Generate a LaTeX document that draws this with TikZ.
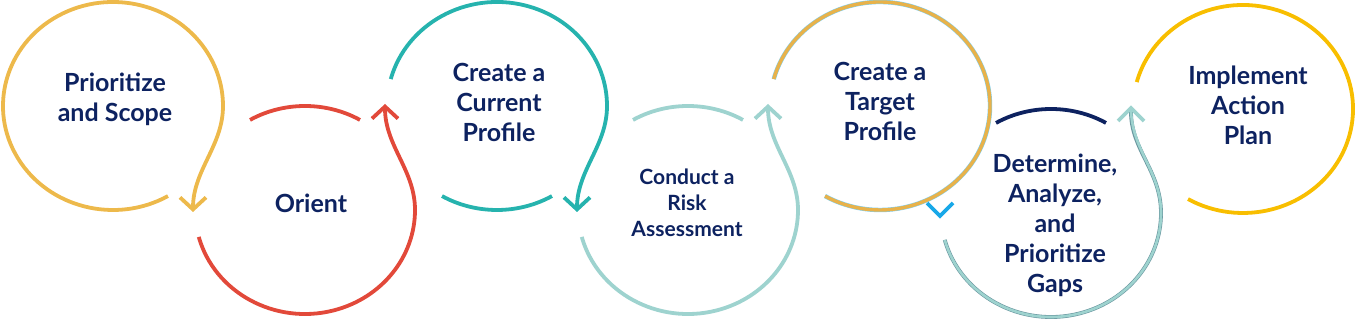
\documentclass[tikz,border=0pt]{standalone}
\usepackage{fontspec}
\setmainfont{Lato}
\usetikzlibrary{arrows.meta,calc}
\definecolor{stepnavy}{HTML}{0D2260}
\definecolor{stepyellow}{HTML}{EDB94B}
\definecolor{stepred}{HTML}{E2493A}
\definecolor{stepteal}{HTML}{26B3AE}
\definecolor{steplight}{HTML}{9ED3CF}
\definecolor{steporange}{HTML}{E8B24A}
\definecolor{stepgold}{HTML}{F8BE00}
\definecolor{stepblue}{HTML}{18A8E8}
\definecolor{stepedge}{HTML}{6A97A0}
\tikzset{
  % Base styles
  loop base/.style={line width=3.8pt},
  barb end/.style={-{Straight Barb[length=12pt,width=26pt]}},
  % Step labels
  step label/.style={font=\bfseries\fontsize{25}{30}\selectfont, text=stepnavy, align=center, inner sep=0pt},
  step label small/.style={step label, font=\bfseries\fontsize{21}{26}\selectfont},
}

\begin{document}
\begin{tikzpicture}[x=1pt, y=1pt]
\useasboundingbox (0,0) rectangle (1355,320);

% Loop centres
\coordinate (c1) at (113,214);
\coordinate (c2) at (305,110);
\coordinate (c3) at (497,214);
\coordinate (c4) at (688,110);
\coordinate (c5) at (880,214);
\coordinate (c6) at (1051,107);
\coordinate (c7) at (1243,211);

% Arrow tips
\coordinate (tip1) at (193,108);
\coordinate (tip2) at (385,216);
\coordinate (tip3) at (577,108);
\coordinate (tip4) at (768,216);
\coordinate (tip5) at (940,104);
\coordinate (tip6) at (1131,212);

% Prioritize and Scope
\draw[loop base, stepyellow, barb end] (c1) ++(-60:110pt and 104pt)
  arc[start angle=-60, end angle=-360, x radius=110pt, y radius=104pt]
  .. controls +(0,-40) and +(0,42) .. (tip1);

% Orient
\draw[loop base, stepred] (c2) ++(120:110pt and 104pt)
  arc[start angle=120, end angle=60, x radius=110pt, y radius=104pt];
\draw[loop base, stepred, barb end] (c2) ++(195:110pt and 104pt)
  arc[start angle=195, end angle=360, x radius=110pt, y radius=104pt]
  .. controls +(0,40) and +(0,-42) .. (tip2);

% Create a Current Profile
\draw[loop base, stepteal] (c3) ++(240:110pt and 104pt)
  arc[start angle=240, end angle=300, x radius=110pt, y radius=104pt];
\draw[loop base, stepteal, barb end] (c3) ++(165:110pt and 104pt)
  arc[start angle=165, end angle=0, x radius=110pt, y radius=104pt]
  .. controls +(0,-40) and +(0,42) .. (tip3);

% Conduct a Risk Assessment
\draw[loop base, steplight] (c4) ++(120:110pt and 104pt)
  arc[start angle=120, end angle=60, x radius=110pt, y radius=104pt];
\draw[loop base, steplight, barb end] (c4) ++(195:110pt and 104pt)
  arc[start angle=195, end angle=360, x radius=110pt, y radius=104pt]
  .. controls +(0,40) and +(0,-42) .. (tip4);

% Create a Target Profile
\draw[line width=4.4pt, stepblue!55] (c5) ++(165:110pt and 104pt)
  arc[start angle=165, end angle=-120, x radius=110pt, y radius=104pt];
\draw[line width=3.4pt, steporange] (c5) ++(165:110pt and 104pt)
  arc[start angle=165, end angle=-120, x radius=110pt, y radius=104pt];
\draw[loop base, stepblue] ($(tip5)+(-13,13)$) -- (tip5) -- ($(tip5)+(13,13)$);

% Determine, Analyze, and Prioritize Gaps
\draw[loop base, stepnavy] (c6) ++(120:110pt and 104pt)
  arc[start angle=120, end angle=60, x radius=110pt, y radius=104pt];
\draw[line width=3.8pt, stepedge, shorten >=4pt] (c6) ++(195:110pt and 104pt)
  arc[start angle=195, end angle=360, x radius=110pt, y radius=104pt]
  .. controls +(0,42) and +(0,-42) .. (tip6);
\draw[line width=2.6pt, steplight] (c6) ++(195:110pt and 104pt)
  arc[start angle=195, end angle=360, x radius=110pt, y radius=104pt]
  .. controls +(0,42) and +(0,-42) .. (tip6);
\draw[loop base, steplight] ($(tip6)+(-13,-13)$) -- (tip6) -- ($(tip6)+(13,-13)$);

% Implement Action Plan
\draw[loop base, stepgold] (c7) ++(165:110pt and 104pt)
  arc[start angle=165, end angle=-120, x radius=110pt, y radius=104pt];

% Labels
\node[step label] (scope) at (115,221) {Prioritize\\and Scope};
\node[step label] (orient) at (311,117) {Orient};
\node[step label] (current) at (499,218) {Create a\\Current\\Profile};
\node[step label small] (risk) at (687,117) {Conduct a\\Risk\\Assessment};
\node[step label] (target) at (880,219) {Create a\\Target\\Profile};
\node[step label] (gaps) at (1055,95) {Determine,\\Analyze,\\and\\Prioritize\\Gaps};
\node[step label] (plan) at (1248,215) {Implement\\Action\\Plan};
\end{tikzpicture}
\end{document}
